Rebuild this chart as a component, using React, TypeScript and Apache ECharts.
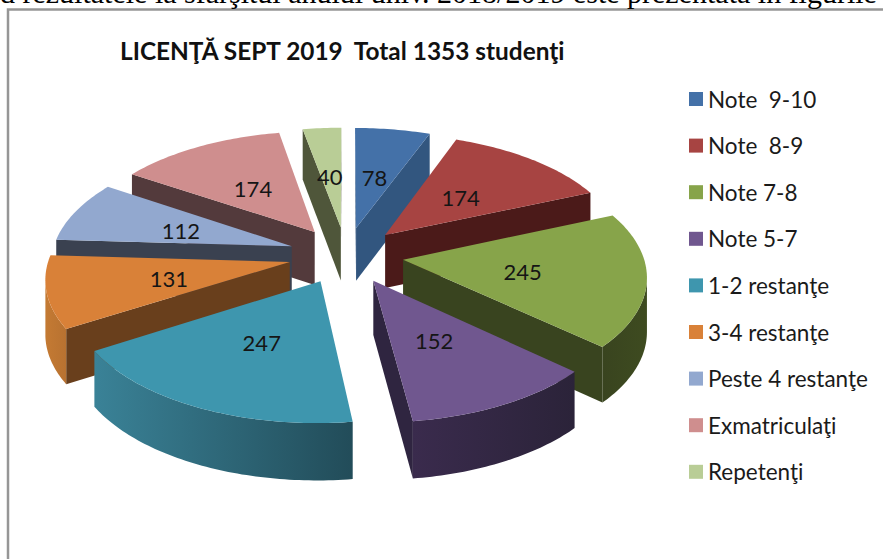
import React, { useEffect, useRef } from "react";
import * as echarts from "echarts";

const categories = ["Note  9-10", "Note  8-9", "Note 7-8", "Note 5-7", "1-2 restanţe", "3-4 restanţe", "Peste 4 restanţe", "Exmatriculaţi", "Repetenţi"];
const studentCounts = [78, 174, 245, 152, 247, 131, 112, 174, 40];
const chartTitle = "LICENŢĂ SEPT 2019  Total 1353 studenţi";
const pageText = "d rezultatele la sfârşitul anului univ. 2018/2019 este prezentată în figurile de";

const topColors = ["#4471a8", "#a74442", "#87a44a", "#70578f", "#3e96ae", "#d98138", "#92a8cf", "#cf8e8e", "#b9cd96"];
const wallColors = ["#32567f", "#4b1a19", "#39441f", "#2f2540", "#2f6f82", "#693f1c", "#3a4150", "#533a3c", "#4f563a"];
const rimFrom = ["#32567f", "#4b1a19", "#39441f", "#3a2b4d", "#3a8297", "#c47a33", "#3a4150", "#533a3c", "#4f563a"];
const rimTo = ["#32567f", "#4b1a19", "#3e4b20", "#2b2339", "#224c59", "#b87231", "#3a4150", "#533a3c", "#4f563a"];

// Projection of the tilted disc
const CX = 346, CY = 255, RX = 240, RY = 118, PERSP = 0.12, EXPLODE = 0.24, DEPTH = 53.5, DEPTH_PERSP = 0.055;
const rad = (d: number) => (d * Math.PI) / 180;
const total = studentCounts.reduce((a, b) => a + b, 0);

function project(u: number, v: number, drop = 0): [number, number] {
  const s = 1 / (1 + PERSP * v);
  return [CX + RX * u * s, CY - RY * v * s + (drop * DEPTH) / (1 + DEPTH_PERSP * v)];
}

function sliceAngles(i: number, value: number) {
  const before = studentCounts.slice(0, i).reduce((a, b) => a + b, 0);
  const start = (before / total) * 360;
  const end = start + (value / total) * 360;
  return { start, end, mid: (start + end) / 2 };
}

function buildSlice(i: number, value: number) {
  const { start, end, mid } = sliceAngles(i, value);
  const ox = EXPLODE * Math.sin(rad(mid));
  const oy = EXPLODE * Math.cos(rad(mid));
  const at = (theta: number, r: number, drop = 0) =>
    project(ox + r * Math.sin(rad(theta)), oy + r * Math.cos(rad(theta)), drop);
  const rim: number[] = [];
  const n = Math.max(4, Math.ceil(end - start));
  for (let k = 0; k <= n; k++) rim.push(start + ((end - start) * k) / n);
  const tip = at(0, 0);
  const tipLow = at(0, 0, 1);
  const top = [tip, ...rim.map((t) => at(t, 1))];
  const children: any[] = [];
  const first = at(start, 1);
  const last = at(end, 1);
  if (first[0] < tip[0]) {
    children.push({ type: "polygon", shape: { points: [tip, first, at(start, 1, 1), tipLow] }, style: { fill: wallColors[i] }, silent: true });
  }
  if (tip[0] < last[0]) {
    children.push({ type: "polygon", shape: { points: [last, tip, tipLow, at(end, 1, 1)] }, style: { fill: wallColors[i] }, silent: true });
  }
  // The outer wall shows only where the rim runs leftwards on screen.
  const front = rim.filter((t, k) => {
    const nb = k < n ? rim[k + 1] : rim[k - 1];
    const dx = k < n ? at(nb, 1)[0] - at(t, 1)[0] : at(t, 1)[0] - at(nb, 1)[0];
    return dx < 0;
  });
  if (front.length > 1) {
    children.push({
      type: "polygon",
      shape: { points: [...front.map((t) => at(t, 1)), ...front.slice().reverse().map((t) => at(t, 1, 1))] },
      style: {
        fill: { type: "linear", x: 0, y: 0, x2: 1, y2: 0, colorStops: [{ offset: 0, color: rimFrom[i] }, { offset: 1, color: rimTo[i] }] },
      },
      silent: true,
    });
  }
  children.push({ type: "polygon", shape: { points: top }, style: { fill: topColors[i] }, silent: true });
  const lp = at(mid, 0.5);
  children.push({
    type: "text",
    silent: true,
    style: { text: String(value), x: lp[0] - 1, y: lp[1] + 1.5, align: "center", verticalAlign: "middle", fill: "#151515", font: "22px Lato" },
  });
  return { type: "group", children };
}

export default function App() {
  const ref = useRef<HTMLDivElement>(null);
  useEffect(() => {
    const chart = echarts.init(ref.current!, undefined, { renderer: "svg" });
    const tipY = studentCounts.map((v, i) => {
      const { mid } = sliceAngles(i, v);
      return project(EXPLODE * Math.sin(rad(mid)), EXPLODE * Math.cos(rad(mid)))[1];
    });
    const order = tipY.map((y, i) => [y, i]).sort((a, b) => a[0] - b[0]).map((p) => p[1]);
    chart.setOption({
      animation: false,
      backgroundColor: "#ffffff",
      title: {
        text: chartTitle,
        left: 115,
        top: 33,
        textStyle: { fontFamily: "Lato", fontWeight: "bold", fontSize: 24.4, color: "#111111" },
      },
      legend: {
        orient: "vertical",
        left: 684,
        top: 82,
        icon: "rect",
        itemWidth: 14,
        itemHeight: 14,
        itemGap: 22.6,
        selectedMode: false,
        data: categories,
        textStyle: { fontFamily: "Lato", fontSize: 22.5, color: "#1a1a1a", lineHeight: 24 },
      },
      graphic: [
        { type: "polyline", shape: { points: [[8, 559], [8, 9.5], [883, 9.5]] }, style: { stroke: "#969696", lineWidth: 2.5, fill: "none" }, silent: true },
        { type: "text", x: 0, y: -23, silent: true, style: { text: pageText, font: "30px 'Liberation Serif'", fill: "#000000" } },
      ],
      series: categories.map((name, i) => ({
        type: "custom",
        name,
        coordinateSystem: "none",
        z: 2 + order.indexOf(i),
        itemStyle: { color: topColors[i] },
        data: [[studentCounts[i]]],
        clip: false,
        renderItem: (_p: any, api: any) => buildSlice(i, api.value(0)),
      })),
    });
    return () => chart.dispose();
  }, []);
  return <div ref={ref} style={{ position: "absolute", left: 0, top: 0, width: 883, height: 559 }} />;
}
